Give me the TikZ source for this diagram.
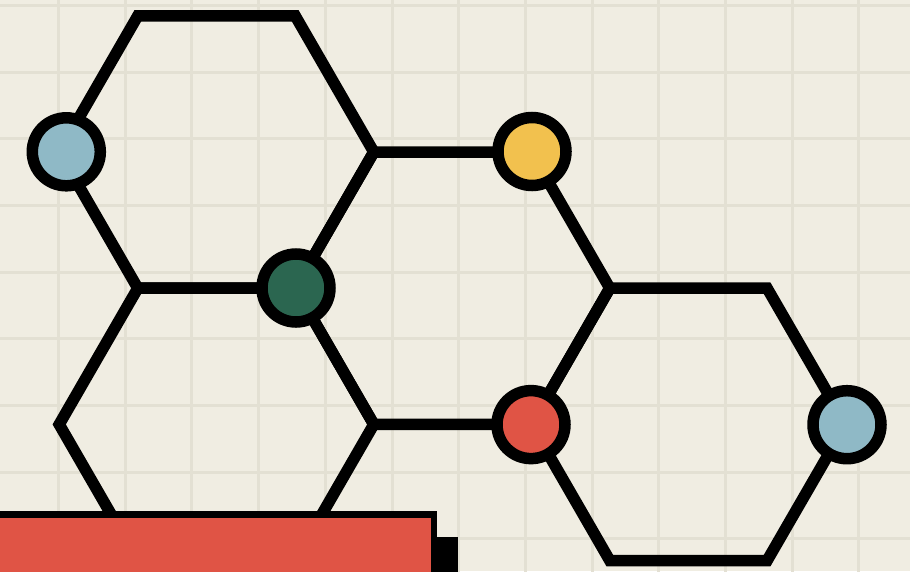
\documentclass[tikz,border=0pt]{standalone}
\usepackage{tikz}
\definecolor{bgcream}{HTML}{F0EDE2}
\definecolor{gridc}{HTML}{E3E0D3}
\definecolor{cblue}{HTML}{8FB9C6}
\definecolor{cyellow}{HTML}{F2C14E}
\definecolor{cgreen}{HTML}{2B6650}
\definecolor{cred}{HTML}{E05445}
\tikzset{
  hexline/.style={draw=black, line width=11.5pt, line join=miter},
  dot/.style={circle, draw=black, line width=11.5pt, minimum size=68pt, inner sep=0pt},
  gridline/.style={draw=gridc, line width=3pt},
}
\begin{document}
\begin{tikzpicture}[x=1pt,y=-1pt]
\useasboundingbox (0,0) rectangle (910,571);
\begin{scope}
\clip (0,0) rectangle (910,571);
\fill[bgcream] (0,0) rectangle (910,571);
\foreach \k in {-1,...,14} {
  \draw[gridline] ({58.5+66.7*\k},-5) -- ({58.5+66.7*\k},580);
  \draw[gridline] (-5,{5.3+66.7*\k}) -- (920,{5.3+66.7*\k});
}
% hexagon vertices
\coordinate (a1) at (137.8,15.8);
\coordinate (a2) at (295.2,15.8);
\coordinate (a3) at (373.8,152);
\coordinate (a4) at (295.2,288.2);
\coordinate (a5) at (137.8,288.2);
\coordinate (a6) at (59.2,152);
\coordinate (b3) at (373.8,424.4);
\coordinate (b4) at (295.2,560.6);
\coordinate (b5) at (137.8,560.6);
\coordinate (b6) at (59.2,424.4);
\coordinate (m2) at (531.2,152);
\coordinate (m3) at (609.8,288.2);
\coordinate (m4) at (531.2,424.4);
\coordinate (c2) at (767.1,288.2);
\coordinate (c3) at (845.8,424.4);
\coordinate (c4) at (767.1,560.6);
\coordinate (c5) at (609.8,560.6);
% hexagons
\draw[hexline] (a1) -- (a2) -- (a3) -- (a4) -- (a5) -- (a6) -- cycle;
\draw[hexline] (a5) -- (a4) -- (b3) -- (b4) -- (b5) -- (b6) -- cycle;
\draw[hexline] (a3) -- (m2) -- (m3) -- (m4) -- (b3) -- (a4) -- cycle;
\draw[hexline] (m3) -- (c2) -- (c3) -- (c4) -- (c5) -- (m4) -- cycle;
% dots
\node[dot, fill=cblue] (n1) at (66.3,151.8) {};
\node[dot, fill=cgreen] (n2) at (296,288) {};
\node[dot, fill=cyellow] (n3) at (532,151.5) {};
\node[dot, fill=cred] (n4) at (531,424.6) {};
\node[dot, fill=cblue] (n5) at (847,424.7) {};
% red panel with shadow
\fill[black] (3,537) rectangle (457.5,640);
\draw[draw=black, fill=cred, line width=6.7pt] (-20,514.3) rectangle (434,640);
\end{scope}
\end{tikzpicture}
\end{document}
